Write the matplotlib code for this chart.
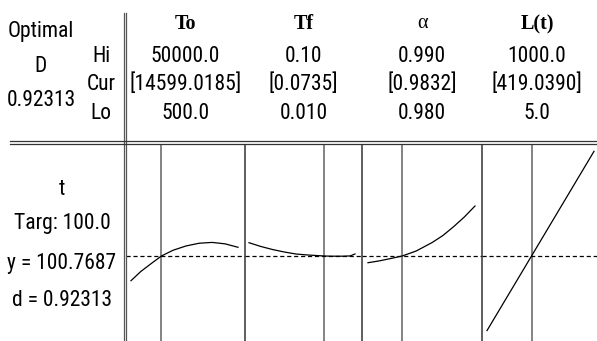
"""
+ Response optimizer plot (t)
"""
import os
import matplotlib
matplotlib.use("Agg")
import matplotlib.pyplot as plt
from matplotlib.lines import Line2D
from matplotlib import font_manager as fm

W, H = 597, 341  # 画像サイズ(px)

# --- データ ---
factors = ["To", "Tf", "α", "L(t)"]
hi_labels = ["50000.0", "0.10", "0.990", "1000.0"]
cur_labels = ["[14599.0185]", "[0.0735]", "[0.9832]", "[419.0390]"]
lo_labels = ["500.0", "0.010", "0.980", "5.0"]
lo_vals = [500, 0.010, 0.980, 5]
hi_vals = [50000, 0.10, 0.990, 1000]
cur_vals = [14599.0185, 0.0735, 0.9832, 419.0390]

To_x = [500, 5000, 10000, 14599, 20000, 26000, 32000, 38000, 44000, 50000]
To_t = [67.8, 80.0, 91.0, 100.8, 108.5, 114.2, 117.8, 118.9, 117.0, 112.4]
Tf_x = [0.010, 0.020, 0.030, 0.040, 0.050, 0.060, 0.0735, 0.080, 0.090, 0.096, 0.100]
Tf_t = [118.5, 113.5, 109.4, 106.1, 103.4, 102.1, 100.8, 100.5, 100.5, 100.9, 103.5]
alpha_x = [0.980, 0.981, 0.982, 0.9832, 0.9845, 0.986, 0.987, 0.988, 0.989, 0.990]
alpha_t = [91.8, 94.1, 97.0, 100.8, 107.4, 118.8, 128.1, 139.9, 152.8, 167.5]
L_x = [5, 419.039, 1000]
L_t = [1.2, 100.77, 240.5]
curves = [(To_x, To_t), (Tf_x, Tf_t), (alpha_x, alpha_t), (L_x, L_t)]

D_opt = "0.92313"
resp_name = "t"
target = "100.0"
y_cur = 100.7687
d_val = "0.92313"

# --- レイアウト(px) ---
panel_l = [126, 245, 362, 482, 600]
curve_px = [(131, 238), (249, 355), (368, 475), (487, 594)]
plot_top = 144.5
ylim = (-12.7, 249.6)


def pick_narrow():
    """ 細いフォントを探す """
    prefs = ['Liberation Sans Narrow', 'Arial Narrow', 'Roboto Condensed',
             'Open Sans Condensed', 'Noto Sans Condensed', 'DejaVu Sans']
    bad = ('Bold', 'Italic', 'Oblique', 'Light', 'Thin', 'Black', 'Medium', 'Semi', 'Extra')
    cands = []
    for f in fm.fontManager.ttflist:
        base = os.path.basename(f.fname)
        narrow = f.stretch in ('condensed', 'semi-condensed', 'extra-condensed') \
            or 'Condensed' in base or 'Narrow' in base
        if not narrow or any(b in base for b in bad) or f.style != 'normal':
            continue
        rank = prefs.index(f.name) if f.name in prefs else len(prefs)
        cands.append((rank, base, f.fname))
    if cands:
        cands.sort()
        return fm.FontProperties(fname=cands[0][2])
    return fm.FontProperties(family='Liberation Sans')


SANS = pick_narrow()
SIZE = 15.5


def fx(px):
    return px / W


def fy(py):
    return 1 - py / H


def label(px, py, s, ha="center"):
    fig.text(fx(px), fy(py), s, fontproperties=SANS, fontsize=SIZE, ha=ha, va="center")


fig = plt.figure(figsize=(W / 100, H / 100), dpi=100, facecolor="white")
plt.rcParams['lines.scale_dashes'] = False

# --- パネル ---
for i in range(4):
    left, right = panel_l[i], panel_l[i + 1]
    ax = fig.add_axes([fx(left), 0, fx(right - left), fy(plot_top)])
    s0, s1 = curve_px[i]
    sc = (hi_vals[i] - lo_vals[i]) / (s1 - s0)
    ax.set_xlim(lo_vals[i] - (s0 - left) * sc, hi_vals[i] + (right - s1) * sc)
    ax.set_ylim(*ylim)
    ax.axis("off")
    ax.axvline(cur_vals[i], color="#7a7a7a", lw=1.3, zorder=1)
    ax.axhline(y_cur, color="black", lw=0.9, dashes=(3, 2), zorder=2)
    ax.plot(curves[i][0], curves[i][1], color="black", lw=0.9, zorder=3)
    # --- 見出し ---
    cx = (left + right) / 2 if i < 3 else 537
    fig.text(fx(cx), fy(24), factors[i], family=['Liberation Serif', 'DejaVu Serif'],
             fontsize=14.5, fontweight="normal" if factors[i] == "α" else "bold",
             ha="center", va="center")
    label(cx, 56, hi_labels[i])
    label(cx, 84, cur_labels[i])
    label(cx, 114, lo_labels[i])

# --- 区切り線 ---
for px in panel_l[1:4]:
    fig.add_artist(Line2D([fx(px), fx(px)], [fy(plot_top), 0], color="#333333", lw=1.1))
for px in [123.5, 126]:
    fig.add_artist(Line2D([fx(px), fx(px)], [fy(13), 0], color="#555555", lw=0.9))
for py in [141, 144]:
    fig.add_artist(Line2D([fx(10), 1], [fy(py), fy(py)], color="#333333", lw=0.9))

# --- 左側ラベル ---
label(41, 32, "Optimal")
label(41, 67, "D")
label(41, 101, D_opt)
label(101, 56, "Hi")
label(101, 84, "Cur")
label(101, 114, "Lo")

label(62, 190, resp_name)
label(62, 224, f"Targ: {target}")
label(62, 263, f"y = {y_cur:.4f}")
label(62, 301, f"d = {d_val}")

fig.savefig("out.png", dpi=100)
